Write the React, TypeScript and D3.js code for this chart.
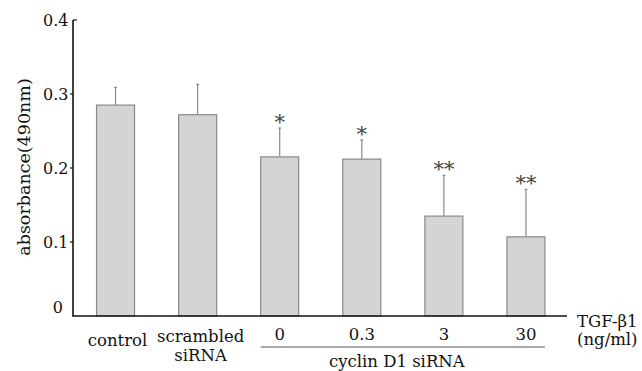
import { useEffect, useRef } from "react";
import * as d3 from "d3";

const categories = ["control", "scrambled siRNA", "0", "0.3", "3", "30"];
const means = [0.285, 0.272, 0.215, 0.212, 0.135, 0.107];
const errors = [0.024, 0.041, 0.039, 0.026, 0.055, 0.064];
const stars = ["", "", "*", "*", "**", "**"];
const yTicks = [0, 0.1, 0.2, 0.3, 0.4];

const FONT = "'DejaVu Serif', serif";

const App = () => {
  const svgRef = useRef<SVGSVGElement>(null);
  const width = 642;
  const height = 371;

  useEffect(() => {
    const svg = d3.select(svgRef.current);
    svg.selectAll("*").remove();

    const x = d3.scaleBand<string>()
      .domain(categories)
      .range([74.5, 567])
      .paddingInner(0.537)
      .paddingOuter(0.2685);

    const y = d3.scaleLinear()
      .domain([0, 0.4])
      .range([316, 20]);

    const rows = categories.map((c, i) => ({ c, m: means[i], e: errors[i], s: stars[i] }));

    // error bars (behind bars)
    const eb = svg.append("g").attr("stroke", "#8a8a8a").attr("stroke-width", 1.2);
    rows.forEach(d => {
      const cx = x(d.c)! + x.bandwidth() / 2;
      eb.append("line")
        .attr("x1", cx).attr("x2", cx)
        .attr("y1", y(d.m)).attr("y2", y(d.m + d.e));
      eb.append("line")
        .attr("x1", cx - 1.5).attr("x2", cx + 1.5)
        .attr("y1", y(d.m + d.e)).attr("y2", y(d.m + d.e));
    });

    svg.append("g")
      .selectAll("rect")
      .data(rows)
      .enter()
      .append("rect")
      .attr("x", d => x(d.c)!)
      .attr("width", x.bandwidth())
      .attr("y", d => y(d.m))
      .attr("height", d => y(0) - y(d.m))
      .attr("fill", "#d4d4d4")
      .attr("stroke", "#8a8a8a")
      .attr("stroke-width", 1.2);

    // significance stars
    svg.append("g")
      .selectAll("text")
      .data(rows.filter(d => d.s))
      .enter()
      .append("text")
      .attr("x", d => x(d.c)! + x.bandwidth() / 2)
      .attr("y", d => y(d.m + d.e) + 1)
      .attr("text-anchor", "middle")
      .attr("font-family", FONT)
      .attr("font-size", 21)
      .attr("fill", "#444")
      .text(d => d.s);

    // axes
    svg.append("line")
      .attr("x1", 73).attr("x2", 73)
      .attr("y1", y(0.4)).attr("y2", y(0))
      .attr("stroke", "#111").attr("stroke-width", 1.6);
    svg.append("line")
      .attr("x1", 72.2).attr("x2", 567)
      .attr("y1", y(0)).attr("y2", y(0))
      .attr("stroke", "#111").attr("stroke-width", 1.6);

    const yg = svg.append("g").attr("font-family", FONT).attr("font-size", 16).attr("fill", "#111");
    yTicks.forEach(t => {
      if (t === 0) {
        yg.append("text").attr("x", 63).attr("y", 313).attr("text-anchor", "end").text("0");
        return;
      }
      const x1 = t === 0.4 ? 73 : 70;
      const x2 = t === 0.4 ? 77 : 73;
      yg.append("line").attr("x1", x1).attr("x2", x2)
        .attr("y1", y(t)).attr("y2", y(t))
        .attr("stroke", "#111").attr("stroke-width", 1.2);
      yg.append("text")
        .attr("x", 68.5)
        .attr("y", y(t) + 5.5)
        .attr("text-anchor", "end")
        .text(d3.format(".1f")(t));
    });

    svg.append("text")
      .attr("transform", `translate(24, 167) rotate(-90)`)
      .attr("text-anchor", "middle")
      .attr("dominant-baseline", "central")
      .attr("font-family", FONT)
      .attr("font-size", 17.5)
      .attr("fill", "#111")
      .text("absorbance(490nm)");

    // x labels
    const xl = svg.append("g").attr("font-family", FONT).attr("font-size", 16.5).attr("fill", "#111")
      .attr("text-anchor", "middle");
    const cx = (c: string) => x(c)! + x.bandwidth() / 2;
    xl.append("text").attr("x", cx("control") + 2).attr("y", 346).text("control");
    xl.append("text").attr("x", cx("scrambled siRNA") + 3).attr("y", 342).text("scrambled");
    xl.append("text").attr("x", cx("scrambled siRNA") + 3).attr("y", 361).text("siRNA");
    categories.slice(2).forEach(c => {
      xl.append("text").attr("x", cx(c)).attr("y", 340).text(c);
    });

    const gx1 = x("0")!;
    const gx2 = x("30")! + x.bandwidth();
    svg.append("line")
      .attr("x1", gx1).attr("x2", gx2)
      .attr("y1", 347).attr("y2", 347)
      .attr("stroke", "#555").attr("stroke-width", 1.2);
    xl.append("text").attr("x", (gx1 + gx2) / 2 - 6).attr("y", 366.5).text("cyclin D1 siRNA");

    const tg = svg.append("g").attr("font-family", FONT).attr("font-size", 16.5).attr("fill", "#111");
    tg.append("text").attr("x", 577).attr("y", 327).text("TGF-β1");
    tg.append("text").attr("x", 577).attr("y", 345).text("(ng/ml)");
  }, []);

  return (
    <div style={{ position: "absolute", left: 0, top: 0 }}>
      <svg ref={svgRef} width={width} height={height} style={{ display: "block", background: "#fff" }} />
    </div>
  );
};

export default App;
